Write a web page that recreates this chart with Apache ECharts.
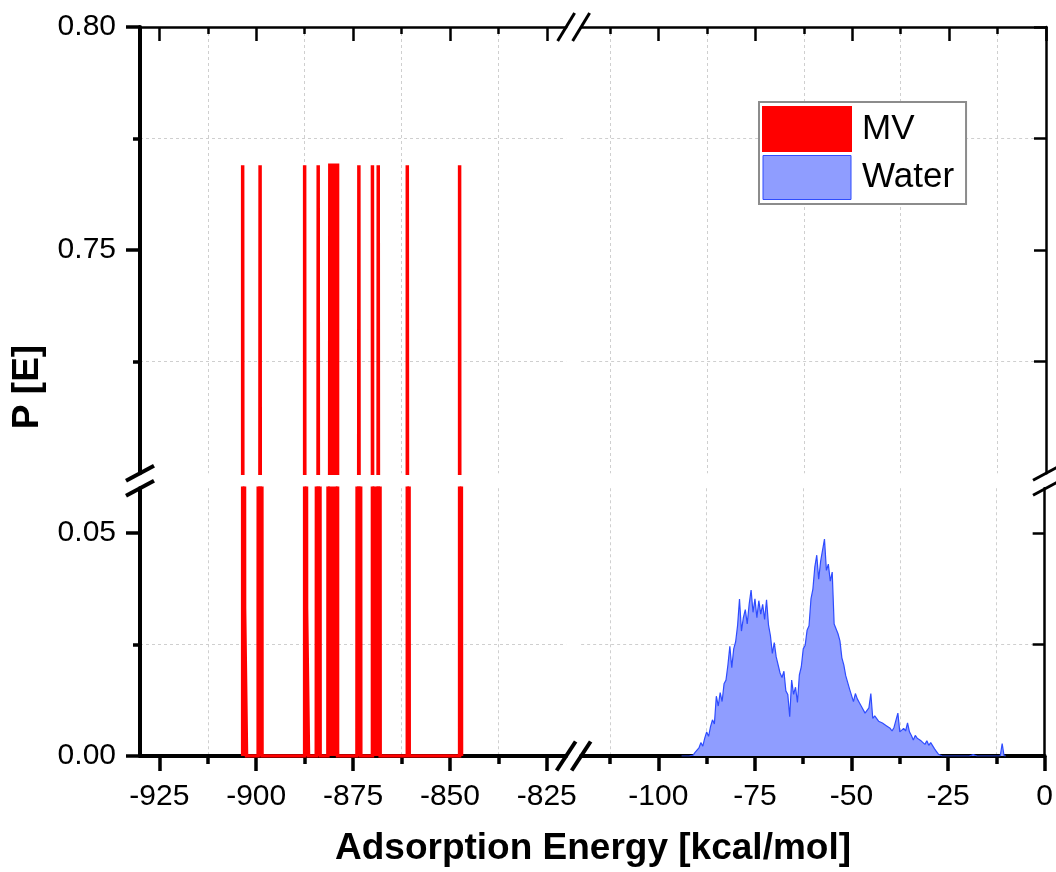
<!DOCTYPE html>
<html>
<head>
<meta charset="utf-8">
<title>Adsorption energy distribution</title>
<script src="https://cdn.jsdelivr.net/npm/echarts@6/dist/echarts.min.js"></script>
<style>
  html, body { margin: 0; padding: 0; background: #ffffff; }
  #chart { width: 1056px; height: 872px; }
</style>
</head>
<body>
<div id="chart"></div>
<script>
// MV histogram: bin centres (kcal/mol) and probabilities, bins 0.5 kcal/mol wide
const mvEnergy = [-903.25, -902.75, -899.25, -898.75, -887.25, -886.75, -883.75,
                  -880.75, -880.25, -879.75, -879.25, -873.25, -869.75, -869.25,
                  -868.25, -860.75, -847.25];
const mvProb   = [0.769, 0.033, 0.033, 0.769, 0.769, 0.033, 0.769,
                  0.769, 0.769, 0.769, 0.769, 0.769, 0.769, 0.033,
                  0.769, 0.769, 0.769];
const mvBinWidth = 0.5;

// Water histogram: first bin centre, bin width and probability of every bin
const waterStart = -94;
const waterBinWidth = 0.5;
const waterProb = [
  0, 0.0004, 0, 0.0002, 0, 0.0003, 0.0002, 0.0008, 0.0006, 0.0018,
  0.0030, 0.0022, 0.0040, 0.0054, 0.0044, 0.0066, 0.0081, 0.0072, 0.0134, 0.0112,
  0.0142, 0.0122, 0.0162, 0.0170, 0.0204, 0.0246, 0.0198, 0.0240, 0.0256, 0.0292,
  0.0352, 0.0280, 0.0310, 0.0328, 0.0296, 0.0340, 0.0372, 0.0322, 0.0352, 0.0310,
  0.0348, 0.0318, 0.0340, 0.0306, 0.0350, 0.0294, 0.0270, 0.0230, 0.0254, 0.0222,
  0.0218, 0.0186, 0.0176, 0.0190, 0.0146, 0.0138, 0.0088, 0.0170, 0.0138, 0.0154,
  0.0120, 0.0182, 0.0200, 0.0240, 0.0248, 0.0282, 0.0292, 0.0352, 0.0374, 0.0424,
  0.0450, 0.0396, 0.0436, 0.0436, 0.0486, 0.0416, 0.0430, 0.0392, 0.0412, 0.0296,
  0.0296, 0.0274, 0.0258, 0.0220, 0.0204, 0.0180, 0.0176, 0.0150, 0.0150, 0.0122,
  0.0140, 0.0128, 0.0120, 0.0112, 0.0108, 0.0096, 0.0096, 0.0108, 0.0140, 0.0084,
  0.0090, 0.0086, 0.0078, 0.0076, 0.0074, 0.0070, 0.0068, 0.0066, 0.0062, 0.0056,
  0.0064, 0.0068, 0.0096, 0.0054, 0.0050, 0.0062, 0.0056, 0.0074, 0.0054, 0.0046,
  0.0036, 0.0046, 0.0040, 0.0044, 0.0034, 0.0032, 0.0026, 0.0034, 0.0024, 0.0030,
  0.0026, 0.0016, 0.0010, 0.0004, 0.0001, 0, 0.0002, 0, 0.0004, 0,
  0.0003, 0, 0.0002, 0, 0, 0, 0, 0, 0, 0,
  0, 0.0003, 0, 0, 0, 0, 0, 0, 0, 0,
  0, 0, 0, 0, 0, 0, 0.0028, 0, 0
];

// Ranges of the two pieces of each broken axis
const xRangeLeft = [-930, -820];
const xRangeRight = [-120, 0];
const yRangeTop = [0.70, 0.80];
const yRangeBottom = [0, 0.06];

// Major (labelled) and minor tick values
const xTicksLeft = [-925, -900, -875, -850, -825];
const xMinorLeft = [-912.5, -887.5, -862.5, -837.5];
const xTicksRight = [-100, -75, -50, -25, 0];
const xMinorRight = [-112.5, -87.5, -62.5, -37.5, -12.5];
const yTicksTop = [0.75, 0.80];
const yMinorTop = [0.725, 0.775];
const yTicksBottom = [0.00, 0.05];
const yMinorBottom = [0.025];

const FONT = "'Liberation Sans', Arial, Helvetica, sans-serif";
const RED = '#ff0000';
const BLUE_LINE = '#2e4cff';
const BLUE_FILL = '#8f9dff';

// Outline of a histogram: each bin contributes its left and right top corner,
// empty bins between the listed ones sit at zero
function histogramOutline(centres, values, width) {
  const first = centres[0];
  const last = centres[centres.length - 1];
  const n = Math.round((last - first) / width);
  const pts = [[first - width / 2, 0]];
  for (let i = 0; i <= n; i++) {
    const c = first + i * width;
    const k = centres.findIndex(v => Math.abs(v - c) < width / 4);
    const h = k >= 0 ? values[k] : 0;
    pts.push([c - width / 2, h], [c + width / 2, h]);
  }
  pts.push([last + width / 2, 0]);
  return pts;
}

const mvData = histogramOutline(mvEnergy, mvProb, mvBinWidth);
const waterData = waterProb.map((p, i) => [waterStart + i * waterBinWidth, p]);

// Plot frame and the pieces it is split into (same scale on both sides of a break)
const plot = { left: 140, right: 1046, top: 27, bottom: 756, gap: 15 };
const spanXL = xRangeLeft[1] - xRangeLeft[0];
const spanXR = xRangeRight[1] - xRangeRight[0];
const pxPerX = (plot.right - plot.left - plot.gap) / (spanXL + spanXR);
const wLeft = spanXL * pxPerX;
const wRight = spanXR * pxPerX;
const spanYT = yRangeTop[1] - yRangeTop[0];
const spanYB = yRangeBottom[1] - yRangeBottom[0];
const pxPerY = (plot.bottom - plot.top - plot.gap) / (spanYT + spanYB);
const hTop = spanYT * pxPerY;
const hBottom = spanYB * pxPerY;
const xSplit = plot.left + wLeft;
const ySplit = plot.top + hTop;

const grids = [
  { left: plot.left, top: plot.top, width: wLeft, height: hTop },                          // upper left
  { left: xSplit + plot.gap, top: plot.top, width: wRight, height: hTop },                 // upper right
  { left: plot.left, top: ySplit + plot.gap, width: wLeft, height: hBottom },              // lower left
  { left: xSplit + plot.gap, top: ySplit + plot.gap, width: wRight, height: hBottom },     // lower right
  { left: plot.left, top: plot.top, width: plot.right - plot.left, height: plot.bottom - plot.top } // titles
];

function edgeAxis(o) {
  return {
    type: 'value',
    gridIndex: o.grid,
    position: o.pos,
    min: o.range[0],
    max: o.range[1],
    axisLine: { show: !!o.lineWidth, onZero: false, lineStyle: { color: '#000', width: o.lineWidth || 1 } },
    axisTick: {
      show: true, inside: !!o.inside, length: o.len, customValues: o.ticks,
      lineStyle: { color: '#000', width: o.tickWidth }
    },
    axisLabel: o.format ? {
      show: true, customValues: o.ticks, margin: o.margin,
      fontSize: 30, fontFamily: FONT, color: '#000', formatter: o.format
    } : { show: false },
    splitLine: o.gridLines ? {
      show: true, lineStyle: { color: '#cfcfcf', width: 1, type: [3, 3] }
    } : { show: false }
  };
}

const fmtX = v => String(Math.round(v));
const fmtY = v => v.toFixed(2);

const xAxes = [
  // upper pieces: top edge, ticks pointing in
  edgeAxis({ grid: 0, pos: 'top', range: xRangeLeft, ticks: xTicksLeft, len: 14, inside: true, lineWidth: 2.5, tickWidth: 2.5 }),
  edgeAxis({ grid: 0, pos: 'top', range: xRangeLeft, ticks: xMinorLeft, len: 7, inside: true, tickWidth: 2.5, gridLines: true }),
  edgeAxis({ grid: 1, pos: 'top', range: xRangeRight, ticks: xTicksRight, len: 14, inside: true, lineWidth: 2.5, tickWidth: 2.5 }),
  edgeAxis({ grid: 1, pos: 'top', range: xRangeRight, ticks: xMinorRight, len: 7, inside: true, tickWidth: 2.5, gridLines: true }),
  // lower pieces: bottom edge with labels, ticks pointing out
  edgeAxis({ grid: 2, pos: 'bottom', range: xRangeLeft, ticks: xTicksLeft, len: 15, lineWidth: 4, tickWidth: 3.5, format: fmtX, margin: 26 }),
  edgeAxis({ grid: 2, pos: 'bottom', range: xRangeLeft, ticks: xMinorLeft, len: 8, tickWidth: 3.5, gridLines: true }),
  edgeAxis({ grid: 3, pos: 'bottom', range: xRangeRight, ticks: xTicksRight, len: 15, lineWidth: 4, tickWidth: 3.5, format: fmtX, margin: 26 }),
  edgeAxis({ grid: 3, pos: 'bottom', range: xRangeRight, ticks: xMinorRight, len: 8, tickWidth: 3.5, gridLines: true }),
  {
    type: 'value', gridIndex: 4, min: 0, max: 1,
    axisLine: { show: false }, axisTick: { show: false }, axisLabel: { show: false }, splitLine: { show: false },
    name: 'Adsorption Energy [kcal/mol]', nameLocation: 'middle', nameGap: 83,
    nameTextStyle: { fontSize: 37, fontWeight: 'bold', fontFamily: FONT, color: '#000' }
  }
];

const yAxes = [
  edgeAxis({ grid: 0, pos: 'left', range: yRangeTop, ticks: yTicksTop, len: 14, lineWidth: 4, tickWidth: 3.5, format: fmtY, margin: 24 }),
  edgeAxis({ grid: 0, pos: 'left', range: yRangeTop, ticks: yMinorTop, len: 7, tickWidth: 3.5, gridLines: true }),
  edgeAxis({ grid: 1, pos: 'right', range: yRangeTop, ticks: yTicksTop, len: 12, inside: true, lineWidth: 2.5, tickWidth: 2.5 }),
  edgeAxis({ grid: 1, pos: 'right', range: yRangeTop, ticks: yMinorTop, len: 12, inside: true, tickWidth: 2.5, gridLines: true }),
  edgeAxis({ grid: 2, pos: 'left', range: yRangeBottom, ticks: yTicksBottom, len: 14, lineWidth: 4, tickWidth: 3.5, format: fmtY, margin: 24 }),
  edgeAxis({ grid: 2, pos: 'left', range: yRangeBottom, ticks: yMinorBottom, len: 7, tickWidth: 3.5, gridLines: true }),
  edgeAxis({ grid: 3, pos: 'right', range: yRangeBottom, ticks: yTicksBottom, len: 12, inside: true, lineWidth: 2.5, tickWidth: 2.5 }),
  edgeAxis({ grid: 3, pos: 'right', range: yRangeBottom, ticks: yMinorBottom, len: 12, inside: true, tickWidth: 2.5, gridLines: true }),
  {
    type: 'value', gridIndex: 4, min: 0, max: 1,
    axisLine: { show: false }, axisTick: { show: false }, axisLabel: { show: false }, splitLine: { show: false },
    name: 'P [E]', nameLocation: 'middle', nameGap: 94,
    nameTextStyle: { fontSize: 37, fontWeight: 'bold', fontFamily: FONT, color: '#000' }
  }
];

// the MV outline is filled down to zero in both vertical pieces
function mvSeries(xi, yi) {
  return {
    name: 'MV', type: 'line', xAxisIndex: xi, yAxisIndex: yi,
    data: mvData, symbol: 'none', showSymbol: false,
    clip: true, animation: false,
    lineStyle: { color: RED, width: 3.5, join: 'miter' },
    itemStyle: { color: RED },
    areaStyle: { color: RED, opacity: 1, origin: 0 },
    z: 3
  };
}

// break marks "//" drawn where each axis is interrupted
function slash(cx, cy, dx, dy, w) {
  return {
    type: 'line', z: 100, silent: true,
    shape: { x1: cx - dx, y1: cy + dy, x2: cx + dx, y2: cy - dy },
    style: { stroke: '#000', lineWidth: w }
  };
}
const breakMarks = [
  slash(xSplit, plot.bottom, 9.5, 14.5, 4), slash(xSplit + plot.gap, plot.bottom, 9.5, 14.5, 4),
  slash(xSplit, plot.top, 8.5, 14, 3), slash(xSplit + plot.gap, plot.top, 8.5, 14, 3),
  slash(plot.left, ySplit, 14, 7.5, 4), slash(plot.left, ySplit + plot.gap, 14, 7.5, 4),
  slash(plot.right, ySplit, 13, 7, 3), slash(plot.right, ySplit + plot.gap, 13, 7, 3)
];

const chart = echarts.init(document.getElementById('chart'), null, { renderer: 'canvas' });
chart.setOption({
  backgroundColor: '#ffffff',
  animation: false,
  textStyle: { fontFamily: FONT },
  grid: grids,
  xAxis: xAxes,
  yAxis: yAxes,
  legend: {
    left: 759, top: 102,
    orient: 'vertical',
    itemWidth: 88, itemHeight: 44, itemGap: 3,
    padding: [4, 12, 4, 3],
    backgroundColor: '#ffffff',
    borderColor: '#8c8c8c', borderWidth: 2,
    textStyle: { fontSize: 35, fontFamily: FONT, color: '#000', padding: [0, 0, 0, 6] },
    data: [
      { name: 'MV', icon: 'rect', itemStyle: { color: RED, borderColor: RED, borderWidth: 2 } },
      { name: 'Water', icon: 'rect', itemStyle: { color: BLUE_FILL, borderColor: BLUE_LINE, borderWidth: 1 } }
    ]
  },
  series: [
    mvSeries(0, 0),
    mvSeries(4, 4),
    {
      name: 'Water', type: 'line', xAxisIndex: 6, yAxisIndex: 6,
      data: waterData, symbol: 'none', showSymbol: false,
      clip: true, animation: false,
      lineStyle: { color: BLUE_LINE, width: 1.2 },
      itemStyle: { color: BLUE_LINE },
      areaStyle: { color: BLUE_FILL, opacity: 1 },
      z: 3
    }
  ],
  graphic: breakMarks
});
</script>
</body>
</html>
